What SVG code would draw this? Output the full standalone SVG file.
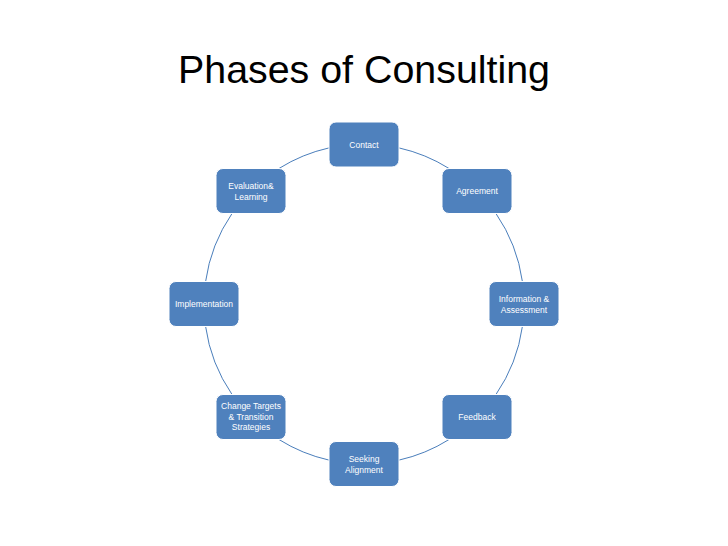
<svg xmlns="http://www.w3.org/2000/svg" width="728" height="546" viewBox="0 0 728 546">
<style>
.node rect{fill:#4f81bd;stroke:#ffffff;stroke-width:1;}
.node text{fill:#ffffff;font-family:"Liberation Sans",Arial,sans-serif;font-size:8.5px;text-anchor:middle;}
.conn path{fill:none;stroke:#4a7ebb;stroke-width:1;}
.title{font-family:"Liberation Sans",Arial,sans-serif;font-size:39px;fill:#000000;text-anchor:middle;}
</style>
<rect width="728" height="546" fill="#ffffff"/>
<text class="title" x="364" y="83" textLength="372" lengthAdjust="spacingAndGlyphs">Phases of Consulting</text>
<g id="connectors" class="conn">
<path d="M399,147.9 A160,160 0 0 1 448.9,168.4"/>
<path d="M495.9,213.4 A160,160 0 0 1 522.4,281.5"/>
<path d="M522.4,326.5 A160,160 0 0 1 495.9,394.6"/>
<path d="M448.9,439.6 A160,160 0 0 1 399,460.1"/>
<path d="M329,460.1 A160,160 0 0 1 279.1,439.6"/>
<path d="M232.1,394.6 A160,160 0 0 1 205.6,326.5"/>
<path d="M205.6,281.5 A160,160 0 0 1 232.1,213.4"/>
<path d="M279.1,168.4 A160,160 0 0 1 329,147.9"/>
</g>
<g id="contact" class="node"><rect x="329" y="122" width="70" height="45" rx="7"/><text x="364" y="147.5">Contact</text></g>
<g id="agreement" class="node"><rect x="442" y="168.5" width="70" height="45" rx="7"/><text x="477" y="194">Agreement</text></g>
<g id="information" class="node"><rect x="489" y="281.5" width="70" height="45" rx="7"/><text x="524" y="302">Information &amp;</text><text x="524" y="313">Assessment</text></g>
<g id="feedback" class="node"><rect x="442" y="394.5" width="70" height="45" rx="7"/><text x="477" y="420">Feedback</text></g>
<g id="seeking" class="node"><rect x="329" y="441.5" width="70" height="45" rx="7"/><text x="364" y="461.5">Seeking</text><text x="364" y="472.5">Alignment</text></g>
<g id="change" class="node"><rect x="216" y="394.5" width="70" height="45" rx="7"/><text x="251" y="409">Change Targets</text><text x="251" y="419.5">&amp; Transition</text><text x="251" y="430">Strategies</text></g>
<g id="implementation" class="node"><rect x="169" y="281.5" width="70" height="45" rx="7"/><text x="204" y="307">Implementation</text></g>
<g id="evaluation" class="node"><rect x="216" y="168.5" width="70" height="45" rx="7"/><text x="251" y="189">Evaluation&amp;</text><text x="251" y="200">Learning</text></g>
</svg>
